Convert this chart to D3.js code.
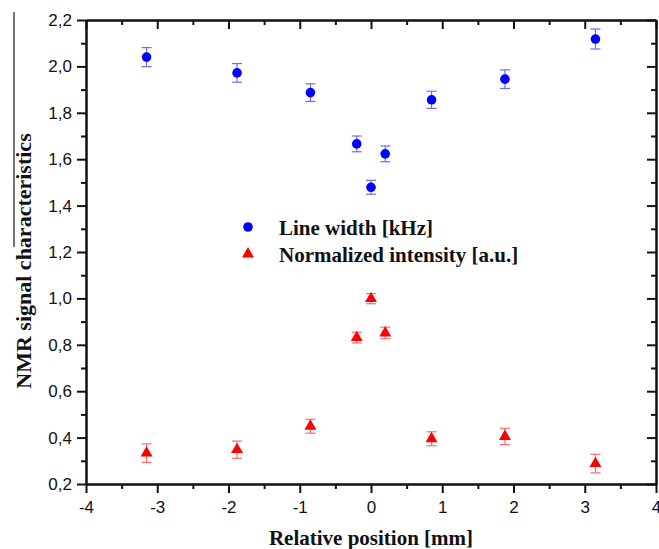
<!DOCTYPE html>
<html>
<head>
<meta charset="utf-8">
<script src="https://cdn.jsdelivr.net/npm/d3@7/dist/d3.min.js"></script>
<style>
  body { margin: 0; background: #fff; }
  svg { display: block; }
  .tick text { font-family: "Liberation Sans", Arial, sans-serif; font-size: 17px; fill: #111; }
  .domain, .tick line { stroke: #111; stroke-width: 2; }
  .title { font-family: "Liberation Serif", "Times New Roman", serif; font-weight: bold; font-size: 21px; fill: #111; }
  .ytitle { font-size: 22px; }
  .legend { font-family: "Liberation Serif", "Times New Roman", serif; font-weight: bold; font-size: 21px; fill: #111; }
</style>
</head>
<body>
<svg width="659" height="549"></svg>
<script>
// Data
var positions = [-3.15, -1.88, -0.85, -0.2, 0, 0.2, 0.85, 1.88, 3.15];
var lineWidth = [2.04, 1.972, 1.887, 1.666, 1.479, 1.623, 1.856, 1.945, 2.118];
var lineWidthErr = [0.041, 0.04, 0.038, 0.034, 0.03, 0.034, 0.037, 0.04, 0.043];
var intensity = [0.333, 0.348, 0.449, 0.831, 0.999, 0.851, 0.395, 0.405, 0.288];
var intensityErr = [0.04, 0.037, 0.03, 0.023, 0.022, 0.025, 0.03, 0.035, 0.04];
var xTicks = [-4, -3, -2, -1, 0, 1, 2, 3, 4];
var xMinor = [-3.5, -2.5, -1.5, -0.5, 0.5, 1.5, 2.5, 3.5];
var yTicks = [0.2, 0.4, 0.6, 0.8, 1.0, 1.2, 1.4, 1.6, 1.8, 2.0, 2.2];
var yMinor = [0.3, 0.5, 0.7, 0.9, 1.1, 1.3, 1.5, 1.7, 1.9, 2.1];
var seriesNames = ["Line width [kHz]", "Normalized intensity [a.u.]"];

var svg = d3.select("svg");
var plotLeft = 86, plotRight = 656, plotTop = 20, plotBottom = 484;

var x = d3.scaleLinear().domain([-4, 4]).range([plotLeft, plotRight]);
var y = d3.scaleLinear().domain([0.2, 2.2]).range([plotBottom, plotTop]);

var comma = function(d) { return d.toFixed(1).replace(".", ","); };
var plain = function(d) { return String(d); };

// stray line on the left edge of the scan
svg.append("line")
  .attr("x1", 14).attr("x2", 14).attr("y1", 12).attr("y2", 247)
  .attr("stroke", "#444").attr("stroke-width", 1.5);

// axes
svg.append("g").attr("transform", "translate(0," + plotBottom + ")")
  .call(d3.axisBottom(x).tickValues(xTicks).tickSize(9).tickSizeOuter(0).tickPadding(8).tickFormat(plain));
svg.append("g").attr("transform", "translate(0," + plotBottom + ")")
  .call(d3.axisBottom(x).tickValues(xMinor).tickSize(5).tickSizeOuter(0).tickFormat(""));
svg.append("g").attr("transform", "translate(0," + plotTop + ")")
  .call(d3.axisTop(x).tickValues(xTicks).tickSize(-9).tickSizeOuter(0).tickFormat(""));
svg.append("g").attr("transform", "translate(0," + plotTop + ")")
  .call(d3.axisTop(x).tickValues(xMinor).tickSize(-5).tickSizeOuter(0).tickFormat(""));

svg.append("g").attr("transform", "translate(" + plotLeft + ",0)")
  .call(d3.axisLeft(y).tickValues(yTicks).tickSize(9).tickSizeOuter(0).tickPadding(5).tickFormat(comma));
svg.append("g").attr("transform", "translate(" + plotLeft + ",0)")
  .call(d3.axisLeft(y).tickValues(yMinor).tickSize(5).tickSizeOuter(0).tickFormat(""));
svg.append("g").attr("transform", "translate(" + plotRight + ",0)")
  .call(d3.axisRight(y).tickValues(yTicks).tickSize(-9).tickSizeOuter(0).tickFormat(""));
svg.append("g").attr("transform", "translate(" + plotRight + ",0)")
  .call(d3.axisRight(y).tickValues(yMinor).tickSize(-5).tickSizeOuter(0).tickFormat(""));

// axis titles
svg.append("text").attr("class", "title")
  .attr("x", (plotLeft + plotRight) / 2).attr("y", 545)
  .attr("text-anchor", "middle")
  .text("Relative position [mm]");
svg.append("text").attr("class", "title ytitle")
  .attr("transform", "translate(31,261) rotate(-90)")
  .attr("text-anchor", "middle")
  .text("NMR signal characteristics");

// error bars
function errorBars(vals, errs, color) {
  var g = svg.append("g").attr("stroke", color).attr("stroke-width", 1.2);
  positions.forEach(function(p, i) {
    var cx = x(p);
    g.append("line").attr("x1", cx).attr("x2", cx).attr("y1", y(vals[i] + errs[i])).attr("y2", y(vals[i] - errs[i]));
    g.append("line").attr("x1", cx - 5).attr("x2", cx + 5).attr("y1", y(vals[i] + errs[i])).attr("y2", y(vals[i] + errs[i]));
    g.append("line").attr("x1", cx - 5).attr("x2", cx + 5).attr("y1", y(vals[i] - errs[i])).attr("y2", y(vals[i] - errs[i]));
  });
}
errorBars(lineWidth, lineWidthErr, "#6b6bff");
errorBars(intensity, intensityErr, "#ff6b6b");

var circle = d3.symbol().type(d3.symbolCircle).size(72);
var triangle = d3.symbol().type(d3.symbolTriangle).size(62);

svg.append("g").selectAll("path")
  .data(positions)
  .enter().append("path")
  .attr("d", circle)
  .attr("fill", "#0000ff")
  .attr("transform", function(d, i) { return "translate(" + x(d) + "," + y(lineWidth[i]) + ")"; });

svg.append("g").selectAll("path")
  .data(positions)
  .enter().append("path")
  .attr("d", triangle)
  .attr("fill", "#ff0000")
  .attr("transform", function(d, i) { return "translate(" + x(d) + "," + y(intensity[i]) + ")"; });

// legend
var legend = svg.append("g");
legend.append("path").attr("d", circle).attr("fill", "#0000ff").attr("transform", "translate(248,227)");
legend.append("path").attr("d", triangle).attr("fill", "#ff0000").attr("transform", "translate(248,254)");
legend.append("text").attr("class", "legend").attr("x", 279).attr("y", 235).text(seriesNames[0]);
legend.append("text").attr("class", "legend").attr("x", 279).attr("y", 262).text(seriesNames[1]);
</script>
</body>
</html>
